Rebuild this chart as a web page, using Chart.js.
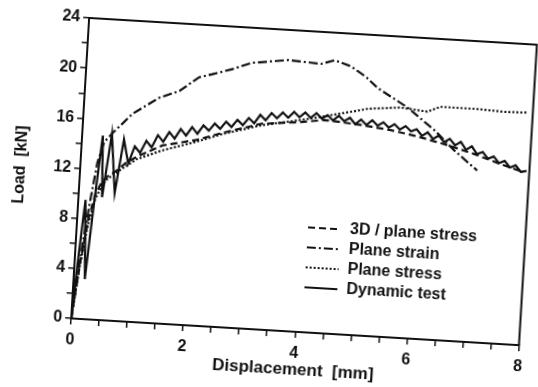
<!DOCTYPE html>
<html>
<head>
<meta charset="utf-8">
<script src="https://cdn.jsdelivr.net/npm/chart.js@4/dist/chart.umd.min.js"></script>
<style>
  html, body { margin: 0; padding: 0; background: #fff; overflow: hidden; }
  #wrap { position: relative; width: 538px; height: 387px; overflow: hidden; }
  #c { position: absolute; left: 0; top: 0; transform: rotate(3.42deg); transform-origin: 269px 193.5px; }
</style>
</head>
<body>
<div id="wrap"><canvas id="c" width="538" height="387"></canvas></div>
<script>
// ---- data ----
const seriesLabels = ["3D / plane stress", "Plane strain", "Plane stress", "Dynamic test"];

const xTickLabels = [0, 2, 4, 6, 8];
const yTickLabels = [0, 4, 8, 12, 16, 20, 24];

const dim3DX = [0, 0.1, 0.2, 0.3, 0.4, 0.5, 0.66, 0.8, 1.0, 1.44, 2.04, 2.5, 3.18, 3.84, 4.3, 4.9, 5.5, 6.0, 6.5, 7.0, 7.5, 7.9];
const dim3DY = [0, 4.5, 8, 10, 11, 11.5, 12.0, 12.6, 13.2, 14.2, 14.8, 15.5, 16.4, 16.7, 17.0, 16.8, 16.5, 16.1, 15.6, 15.0, 14.3, 13.8];

const strainX = [0, 0.1, 0.2, 0.3, 0.4, 0.55, 0.88, 1.34, 1.68, 2.02, 2.25, 2.6, 2.94, 3.12, 3.59, 4.18, 4.42, 4.71, 5.0, 5.21, 5.76, 6.27, 6.64, 7.07];
const strainY = [0, 5, 9, 12.5, 14.2, 15.0, 16.6, 18.0, 18.6, 19.8, 20.1, 20.6, 21.2, 21.3, 21.6, 21.45, 21.8, 21.4, 20.6, 19.8, 18.4, 16.7, 15.2, 13.7];

const stressX = [0, 0.1, 0.2, 0.3, 0.4, 0.5, 0.7, 1.0, 1.44, 2.0, 2.5, 3.2, 3.66, 4.0, 4.59, 4.88, 5.06, 5.64, 6.0, 6.12, 6.35, 7.0, 7.5, 7.89];
const stressY = [0, 4.3, 7.6, 9.6, 10.7, 11.3, 12.0, 13.0, 13.8, 14.6, 15.4, 16.3, 16.7, 17.0, 17.6, 17.9, 18.1, 18.35, 18.2, 18.15, 18.6, 18.6, 18.5, 18.55];

const dynX = [0, 0.05, 0.1, 0.13, 0.2, 0.28, 0.37, 0.42, 0.53, 0.64, 0.75, 0.85, 0.95, 1.05, 1.15, 1.25, 1.35, 1.45, 1.55, 1.65, 1.75, 1.85, 1.95, 2.05, 2.15, 2.25, 2.35, 2.45, 2.55, 2.65, 2.75, 2.85, 2.95, 3.05, 3.15, 3.25, 3.35, 3.45, 3.55, 3.65, 3.75, 3.85, 3.95, 4.05, 4.15, 4.25, 4.35, 4.45, 4.55, 4.65, 4.75, 4.85, 4.95, 5.05, 5.15, 5.25, 5.35, 5.45, 5.55, 5.65, 5.75, 5.85, 5.95, 6.05, 6.15, 6.25, 6.35, 6.45, 6.55, 6.65, 6.75, 6.85, 6.95, 7.05, 7.15, 7.25, 7.35, 7.45, 7.55, 7.65, 7.75, 7.85, 7.95];
const dynY = [0, 4, 7.5, 9.5, 3.2, 9.0, 14.7, 9.8, 14.9, 10.2, 14.5, 12.6, 14.0, 13.5, 14.5, 14.0, 15.0, 14.5, 15.3, 14.8, 15.6, 15.1, 15.8, 15.3, 16.0, 15.6, 16.2, 15.8, 16.4, 16.0, 16.6, 16.2, 16.8, 16.4, 17.1, 16.7, 17.3, 16.9, 17.4, 17.0, 17.5, 17.1, 17.5, 17.1, 17.5, 17.1, 17.4, 17.0, 17.4, 17.0, 17.3, 16.8, 17.2, 16.8, 17.2, 16.8, 17.1, 16.7, 17.0, 16.6, 16.9, 16.5, 16.7, 16.2, 16.5, 16.0, 16.3, 15.8, 16.1, 15.6, 15.9, 15.3, 15.6, 15.0, 15.2, 14.7, 14.9, 14.4, 14.6, 14.1, 14.3, 13.8, 13.9];

// ---- build ----
const pts = (xs, ys) => xs.map((x, i) => ({ x: x, y: ys[i] }));
const FONT = "'Liberation Sans', Arial, sans-serif";

const datasets = [
  { label: seriesLabels[0], data: pts(dim3DX, dim3DY), borderDash: [7, 4] },
  { label: seriesLabels[1], data: pts(strainX, strainY), borderDash: [9, 3, 2, 3] },
  { label: seriesLabels[2], data: pts(stressX, stressY), borderDash: [2, 2] },
  { label: seriesLabels[3], data: pts(dynX, dynY), borderDash: [] }
].map(d => Object.assign(d, {
  borderColor: '#111', borderWidth: 2.2, pointRadius: 0, tension: 0, fill: false
}));

const boxAndLegend = {
  id: 'boxAndLegend',
  afterDraw(chart) {
    const ctx = chart.ctx, a = chart.chartArea;
    ctx.save();
    ctx.strokeStyle = '#111';
    ctx.lineWidth = 2;
    ctx.beginPath();
    ctx.moveTo(a.left, a.top); ctx.lineTo(a.right, a.top); ctx.lineTo(a.right, a.bottom);
    ctx.stroke();
    // legend
    ctx.font = 'bold 16px ' + FONT;
    ctx.fillStyle = '#111';
    ctx.textBaseline = 'middle';
    chart.data.datasets.forEach((ds, i) => {
      const y = a.top + 196 + i * 20;
      ctx.setLineDash(ds.borderDash || []);
      ctx.lineWidth = 2;
      ctx.beginPath();
      ctx.moveTo(a.left + 231, y); ctx.lineTo(a.left + 264, y);
      ctx.stroke();
      ctx.setLineDash([]);
      ctx.fillText(ds.label, a.left + 273, y);
    });
    ctx.restore();
  }
};

new Chart(document.getElementById('c'), {
  type: 'line',
  data: { datasets: datasets },
  options: {
    responsive: false,
    animation: false,
    layout: { padding: { left: 8, top: 29, right: 7, bottom: 4 } },
    plugins: { legend: { display: false }, tooltip: { enabled: false } },
    scales: {
      x: {
        type: 'linear', min: 0, max: 8,
        afterFit: s => { s.height = 53; },
        border: { display: true, color: '#111', width: 2 },
        grid: { drawOnChartArea: false, drawTicks: true, tickLength: 6, color: '#111', lineWidth: 1.5 },
        ticks: {
          stepSize: 0.5, autoSkip: false, maxRotation: 0, color: '#111', padding: 6,
          font: { family: FONT, size: 16, weight: 'bold' },
          callback: v => xTickLabels.includes(v) ? String(v) : ''
        },
        title: { display: true, text: 'Displacement  [mm]', color: '#111', padding: { top: 0 },
                 font: { family: FONT, size: 17, weight: 'bold' } }
      },
      y: {
        type: 'linear', min: 0, max: 24,
        afterFit: s => { s.width = 71; },
        border: { display: true, color: '#111', width: 2 },
        grid: { drawOnChartArea: false, drawTicks: true, tickLength: 6, color: '#111', lineWidth: 1.5 },
        ticks: {
          stepSize: 2, autoSkip: false, color: '#111', padding: 3,
          font: { family: FONT, size: 16, weight: 'bold' },
          callback: v => yTickLabels.includes(v) ? String(v) : ''
        },
        title: { display: true, text: 'Load  [kN]', color: '#111', padding: { top: 2, bottom: 6 },
                 font: { family: FONT, size: 16, weight: 'bold' } }
      }
    }
  },
  plugins: [boxAndLegend]
});
</script>
</body>
</html>
